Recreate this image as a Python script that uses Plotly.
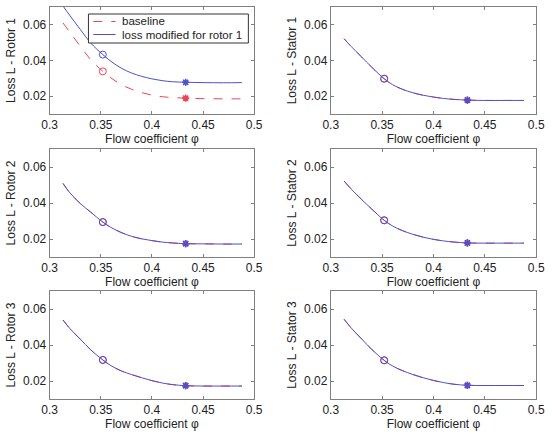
import plotly.graph_objects as go
from plotly.subplots import make_subplots

# ---- data ----
phi = [0.313, 0.32, 0.33, 0.34, 0.352, 0.36, 0.37, 0.38, 0.39, 0.40, 0.41, 0.42, 0.433, 0.45, 0.47, 0.488]

rotor1_base = [0.0611, 0.0556, 0.0480, 0.0405, 0.0339, 0.0302, 0.0265, 0.0239, 0.0220, 0.0206, 0.0197, 0.0192, 0.0189, 0.0186, 0.0185, 0.0185]
rotor1_mod = [0.0706, 0.0650, 0.0574, 0.0499, 0.0433, 0.0395, 0.0357, 0.0330, 0.0311, 0.0297, 0.0287, 0.0281, 0.0278, 0.0276, 0.0275, 0.0276]
stator1 = [0.0522, 0.0478, 0.0420, 0.0362, 0.0298, 0.0265, 0.0238, 0.0219, 0.0205, 0.0195, 0.0187, 0.0182, 0.0178, 0.0176, 0.0176, 0.0176]
rotor2 = [0.0509, 0.0455, 0.0397, 0.0350, 0.0294, 0.0264, 0.0236, 0.0215, 0.0201, 0.0191, 0.0183, 0.0178, 0.0174, 0.0173, 0.0172, 0.0172]
stator2 = [0.0522, 0.0477, 0.0420, 0.0366, 0.0304, 0.0273, 0.0246, 0.0226, 0.0210, 0.0198, 0.0189, 0.0183, 0.0178, 0.0177, 0.0177, 0.0177]
rotor3 = [0.0539, 0.0490, 0.0432, 0.0374, 0.0317, 0.0285, 0.0256, 0.0236, 0.0218, 0.0202, 0.0189, 0.0180, 0.0174, 0.0172, 0.0172, 0.0172]
stator3 = [0.0543, 0.0494, 0.0434, 0.0375, 0.0315, 0.0284, 0.0257, 0.0236, 0.0218, 0.0203, 0.0191, 0.0182, 0.0176, 0.0175, 0.0175, 0.0175]

circle_idx = 4   # phi = 0.352
star_idx = 12    # phi = 0.433

panels = [
    ("Loss L - Rotor 1", rotor1_base, rotor1_mod),
    ("Loss L - Stator 1", stator1, stator1),
    ("Loss L - Rotor 2", rotor2, rotor2),
    ("Loss L - Stator 2", stator2, stator2),
    ("Loss L - Rotor 3", rotor3, rotor3),
    ("Loss L - Stator 3", stator3, stator3),
]

legend_labels = ["baseline", "loss modified for rotor 1"]

x_ticks = [0.3, 0.35, 0.4, 0.45, 0.5]
x_ticklabels = ["0.3", "0.35", "0.4", "0.45", "0.5"]
y_ticks = [0.02, 0.04, 0.06]
y_ticklabels = ["0.02", "0.04", "0.06"]

RED = "rgb(235,70,85)"
BLUE = "rgb(80,80,200)"
FONT = "Liberation Sans, Arial, sans-serif"
TXT = "#222"

fig = make_subplots(rows=3, cols=2)

for k, (label, base, mod) in enumerate(panels):
    r, c = k // 2 + 1, k % 2 + 1
    fig.add_trace(go.Scatter(x=phi, y=base, mode="lines", line=dict(color=RED, width=1, dash="dash", shape="spline"),
                             name=legend_labels[0], showlegend=False), row=r, col=c)
    fig.add_trace(go.Scatter(x=phi, y=mod, mode="lines", line=dict(color=BLUE, width=1, shape="spline"),
                             name=legend_labels[1], showlegend=False), row=r, col=c)
    for series, col in ((base, RED), (mod, BLUE)):
        fig.add_trace(go.Scatter(x=[phi[circle_idx]], y=[series[circle_idx]], mode="markers",
                                 marker=dict(symbol="circle-open", size=7, color=col, line=dict(width=1)),
                                 showlegend=False, hoverinfo="skip"), row=r, col=c)
        fig.add_trace(go.Scatter(x=[phi[star_idx]], y=[series[star_idx]], mode="markers",
                                 marker=dict(symbol="asterisk-open", size=6, color=col, line=dict(width=1.6, color=col)),
                                 showlegend=False, hoverinfo="skip"), row=r, col=c)
    fig.update_yaxes(title_text=label, row=r, col=c)

W, H = 552, 436
col_dom = [(43 / W, 254 / W), (333 / W, 545 / W)]
row_px = [(7, 114), (149, 257), (291, 399)]
for k in range(6):
    r, c = k // 2, k % 2
    xa = "xaxis" if k == 0 else f"xaxis{k+1}"
    ya = "yaxis" if k == 0 else f"yaxis{k+1}"
    top, bot = row_px[r]
    fig.layout[xa].domain = list(col_dom[c])
    fig.layout[ya].domain = [1 - bot / H, 1 - top / H]

axis_common = dict(showline=True, linecolor="#808080", linewidth=1, mirror="ticks", ticks="inside",
                   ticklen=3, tickcolor="#808080", showgrid=False, zeroline=False,
                   tickfont=dict(family=FONT, size=12, color=TXT))
fig.update_xaxes(range=[0.3, 0.5], tickvals=x_ticks, ticktext=x_ticklabels,
                 title=dict(text="Flow coefficient φ", font=dict(family=FONT, size=12, color=TXT), standoff=2),
                 **axis_common)
fig.update_yaxes(range=[0.01, 0.07], tickvals=y_ticks, ticktext=y_ticklabels,
                 title=dict(font=dict(family=FONT, size=12, color=TXT), standoff=4),
                 **axis_common)

# manual legend box (top-left panel)
def px_x(v):
    return v / W

def px_y(v):
    return 1 - v / H

shapes = [
    dict(type="rect", xref="paper", yref="paper", x0=px_x(83), x1=px_x(248), y0=px_y(43), y1=px_y(14),
         line=dict(color="#333", width=1), fillcolor="white", layer="above"),
    dict(type="line", xref="paper", yref="paper", x0=px_x(88), x1=px_x(111), y0=px_y(21.5), y1=px_y(21.5),
         line=dict(color=RED, width=1, dash="dash"), layer="above"),
    dict(type="line", xref="paper", yref="paper", x0=px_x(88), x1=px_x(111), y0=px_y(34.5), y1=px_y(34.5),
         line=dict(color=BLUE, width=1), layer="above"),
]
annotations = list(fig.layout.annotations) + [
    dict(text=legend_labels[0], xref="paper", yref="paper", x=px_x(116), y=px_y(21.5), xanchor="left",
         yanchor="middle", showarrow=False, font=dict(family=FONT, size=11.5, color=TXT)),
    dict(text=legend_labels[1], xref="paper", yref="paper", x=px_x(116), y=px_y(34.5), xanchor="left",
         yanchor="middle", showarrow=False, font=dict(family=FONT, size=11.5, color=TXT)),
]

fig.update_layout(
    width=W, height=H, margin=dict(l=0, r=0, t=0, b=0),
    paper_bgcolor="white", plot_bgcolor="white",
    font=dict(family=FONT, size=12, color=TXT),
    showlegend=False, shapes=shapes, annotations=annotations,
)

fig.write_html("out.html")
